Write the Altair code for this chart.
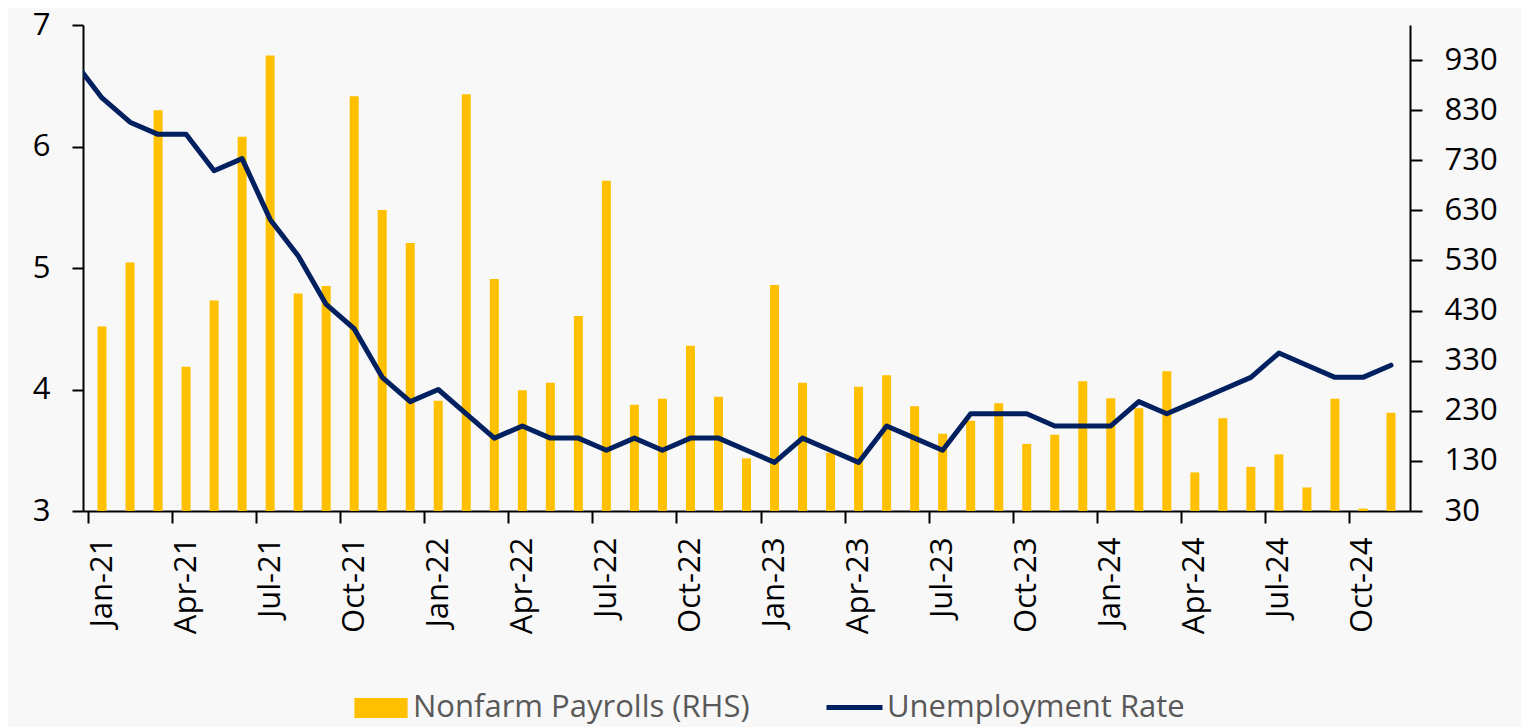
import altair as alt
import pandas as pd

# Month categories (Dec-20 only feeds the clipped start of the line)
months = [d.strftime("%b-%y") for d in pd.date_range("2020-12-01", "2024-11-01", freq="MS")]

unemployment = [6.7,
                6.4, 6.2, 6.1, 6.1, 5.8, 5.9, 5.4, 5.1, 4.7, 4.5, 4.1, 3.9,
                4.0, 3.8, 3.6, 3.7, 3.6, 3.6, 3.5, 3.6, 3.5, 3.6, 3.6, 3.5,
                3.4, 3.6, 3.5, 3.4, 3.7, 3.6, 3.5, 3.8, 3.8, 3.8, 3.7, 3.7,
                3.7, 3.9, 3.8, 3.9, 4.0, 4.1, 4.3, 4.2, 4.1, 4.1, 4.2]

payrolls = [398, 526, 830, 318, 450, 777, 939, 464, 479, 858, 631, 565,
            250, 862, 493, 271, 286, 419, 689, 242, 254, 360, 258, 135,
            481, 286, 146, 278, 301, 239, 184, 210, 245, 164, 182, 289,
            255, 235, 309, 107, 215, 118, 143, 77, 254, 35, 226]

tick_labels = ["Jan-21", "Apr-21", "Jul-21", "Oct-21", "Jan-22", "Apr-22", "Jul-22", "Oct-22",
               "Jan-23", "Apr-23", "Jul-23", "Oct-23", "Jan-24", "Apr-24", "Jul-24", "Oct-24"]
left_ticks = [3, 4, 5, 6, 7]
right_ticks = [30, 130, 230, 330, 430, 530, 630, 730, 830, 930]

S_BAR = "Nonfarm Payrolls (RHS)"
S_LINE = "Unemployment Rate"

# slot position: Jan-21 occupies [0,1], centre 0.5
line_df = pd.DataFrame({
    "month": months,
    "pos": [i - 0.5 for i in range(len(months))],
    "rate": unemployment,
    "series": S_LINE,
})
bar_df = pd.DataFrame({
    "month": months[1:],
    "pos": [i + 0.5 for i in range(len(payrolls))],
    "payrolls": payrolls,
    "series": S_BAR,
})

tick_values = [months.index(t) - 1 for t in tick_labels]
label_expr = "[" + ",".join(f"'{t}'" for t in tick_labels) + "][indexof([" + \
    ",".join(str(v) for v in tick_values) + "], datum.value)]"

x_enc = alt.X(
    "pos:Q",
    scale=alt.Scale(domain=[0, len(payrolls)], nice=False, zero=False),
    axis=alt.Axis(values=tick_values, labelExpr=label_expr, labelAngle=-90,
                  labelOffset=14, tickSize=12, labelPadding=14,
                  labelFlush=False, labelOverlap=False, labelBound=False),
    title=None,
)

FONT = "Open Sans"

bars = alt.Chart(bar_df).mark_bar(width=9, clip=True).encode(
    x=x_enc,
    y=alt.Y("payrolls:Q",
            scale=alt.Scale(domain=[30, 1000], nice=False, zero=False),
            axis=alt.Axis(orient="right", values=right_ticks, tickSize=12, labelPadding=22),
            title=None),
    fill=alt.Fill("series:N",
                  scale=alt.Scale(domain=[S_BAR], range=["#FFC000"]),
                  legend=alt.Legend(orient="none", legendX=270, legendY=655, title=None,
                                    symbolType="M-0.95,-0.36H0.95V0.36H-0.95Z",
                                    symbolSize=3136, symbolStrokeWidth=0,
                                    labelFont=FONT, labelFontSize=31, labelColor="#595959",
                                    labelOffset=4, labelLimit=1000)),
)

line = alt.Chart(line_df).mark_line(strokeWidth=5, clip=True, strokeJoin="round", strokeCap="round").encode(
    x=x_enc,
    y=alt.Y("rate:Q",
            scale=alt.Scale(domain=[3, 7], nice=False, zero=False),
            axis=alt.Axis(orient="left", values=left_ticks, tickSize=11, labelPadding=22),
            title=None),
    stroke=alt.Stroke("series:N",
                      scale=alt.Scale(domain=[S_LINE], range=["#002060"]),
                      legend=alt.Legend(orient="none", legendX=741, legendY=652, title=None,
                                        symbolType="stroke", symbolSize=3136, symbolStrokeWidth=5,
                                        labelFont=FONT, labelFontSize=31, labelColor="#595959",
                                        labelOffset=2, labelLimit=1000)),
)

chart = alt.layer(bars, line).resolve_scale(y="independent").properties(
    width=1327,
    height=486,
    padding={"left": 75, "top": 17, "right": 111, "bottom": 216},
    autosize=alt.AutoSizeParams(type="none"),
    background="#F8F8F8",
).configure_view(stroke=None).configure_axis(
    domainColor="black", tickColor="black", domainWidth=2, tickWidth=2,
    labelFont=FONT, labelFontSize=31, labelColor="black", grid=False,
)

chart.save("out.html", embed_options={"renderer": "svg", "actions": False})
